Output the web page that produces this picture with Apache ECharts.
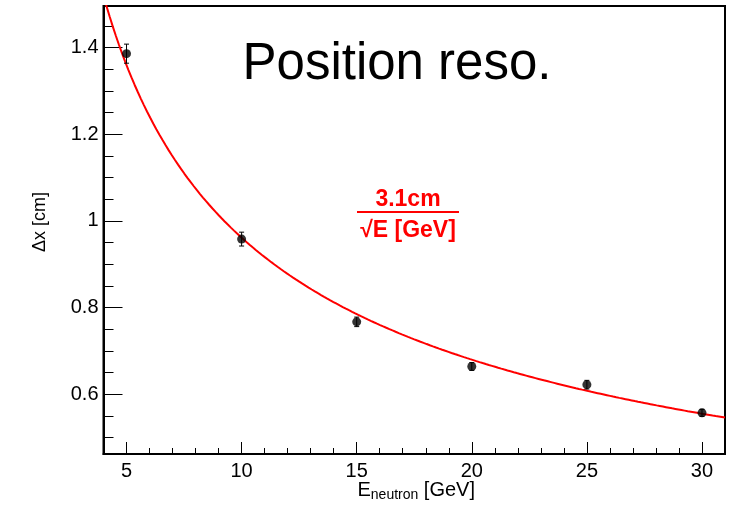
<!DOCTYPE html>
<html>
<head>
<meta charset="utf-8">
<script src="https://cdn.jsdelivr.net/npm/echarts@6/dist/echarts.min.js"></script>
<style>
  html, body { margin: 0; padding: 0; background: #fff; }
  #chart { width: 734px; height: 508px; }
</style>
</head>
<body>
<div id="chart"></div>
<script>
// Measured resolution vs neutron energy
const energies = [5, 10, 15, 20, 25, 30];
const resolution = [1.386, 0.958, 0.767, 0.664, 0.622, 0.557];
const resolutionErr = [0.022, 0.016, 0.011, 0.009, 0.010, 0.008];

// Fit: a / sqrt(E)
const fitA = 3.04;
const fitRange = [4, 31];
const fitSteps = 200;

// Axis ticks
const xMajorTicks = [5, 10, 15, 20, 25, 30];
const xMinorTicks = [5, 6, 7, 8, 9, 10, 11, 12, 13, 14, 15, 16, 17, 18, 19, 20, 21, 22, 23, 24, 25, 26, 27, 28, 29, 30];
const yMajorTicks = [0.6, 0.8, 1.0, 1.2, 1.4];
const yMinorTicks = [0.5, 0.55, 0.6, 0.65, 0.7, 0.75, 0.8, 0.85, 0.9, 0.95, 1.0, 1.05, 1.1, 1.15, 1.2, 1.25, 1.3, 1.35, 1.4, 1.45];
const xRange = [4, 31];
const yRange = [0.462, 1.496];

const fitCurve = [];
for (let i = 0; i <= fitSteps; i++) {
  const e = fitRange[0] + (fitRange[1] - fitRange[0]) * i / fitSteps;
  fitCurve.push([e, fitA / Math.sqrt(e)]);
}

const points = energies.map((e, i) => [e, resolution[i]]);
const errBars = energies.map((e, i) => [e, resolution[i] - resolutionErr[i], resolution[i] + resolutionErr[i]]);

const FONT = 'Liberation Sans, Arial, Helvetica, sans-serif';
const grid = { left: 103.5, right: 9, top: 6, bottom: 54 };

const chart = echarts.init(document.getElementById('chart'), null, { renderer: 'canvas' });

chart.setOption({
  animation: false,
  backgroundColor: '#fff',
  grid: Object.assign({ show: true, borderColor: '#000', borderWidth: 2, backgroundColor: '#fff' }, grid),
  xAxis: [
    {
      type: 'value', min: xRange[0], max: xRange[1],
      axisLine: { show: true, onZero: false, lineStyle: { color: '#000', width: 2 } },
      axisTick: { show: true, inside: true, length: 12, customValues: xMajorTicks, lineStyle: { color: '#000', width: 1 } },
      axisLabel: { show: true, customValues: xMajorTicks, color: '#000', fontSize: 20, fontFamily: FONT, margin: 7 },
      splitLine: { show: false }
    },
    {
      type: 'value', min: xRange[0], max: xRange[1], position: 'bottom',
      axisLine: { show: false },
      axisTick: { show: true, inside: true, length: 6, customValues: xMinorTicks, lineStyle: { color: '#000', width: 1 } },
      axisLabel: { show: false },
      splitLine: { show: false }
    }
  ],
  yAxis: [
    {
      type: 'value', min: yRange[0], max: yRange[1],
      axisLine: { show: true, onZero: false, lineStyle: { color: '#000', width: 2 } },
      axisTick: { show: true, inside: true, length: 19, customValues: yMajorTicks, lineStyle: { color: '#000', width: 1 } },
      axisLabel: { show: true, customValues: yMajorTicks, color: '#000', fontSize: 20, fontFamily: FONT, margin: 5 },
      splitLine: { show: false }
    },
    {
      type: 'value', min: yRange[0], max: yRange[1], position: 'left',
      axisLine: { show: false },
      axisTick: { show: true, inside: true, length: 10, customValues: yMinorTicks, lineStyle: { color: '#000', width: 1 } },
      axisLabel: { show: false },
      splitLine: { show: false }
    }
  ],
  series: [
    {
      type: 'line', data: fitCurve, showSymbol: false, clip: true,
      lineStyle: { color: '#ff0000', width: 2 }, z: 3
    },
    {
      type: 'custom', data: errBars, z: 4,
      renderItem: function (params, api) {
        const lo = api.coord([api.value(0), api.value(1)]);
        const hi = api.coord([api.value(0), api.value(2)]);
        const cap = 2.5;
        const style = { stroke: '#000', lineWidth: 1 };
        return {
          type: 'group',
          children: [
            { type: 'line', shape: { x1: lo[0], y1: lo[1], x2: hi[0], y2: hi[1] }, style: style },
            { type: 'line', shape: { x1: lo[0] - cap, y1: lo[1], x2: lo[0] + cap, y2: lo[1] }, style: style },
            { type: 'line', shape: { x1: hi[0] - cap, y1: hi[1], x2: hi[0] + cap, y2: hi[1] }, style: style }
          ]
        };
      }
    },
    {
      type: 'scatter', data: points, symbol: 'circle', symbolSize: 9,
      itemStyle: { color: '#000' }, z: 5
    }
  ],
  graphic: [
    {
      type: 'text', x: 397, y: 65,
      style: { text: 'Position reso.', font: '51px ' + FONT, fill: '#000', align: 'center', verticalAlign: 'middle' }
    },
    {
      type: 'text', x: 40, y: 222, rotation: Math.PI / 2,
      style: { text: '\u0394x [cm]', font: '18px ' + FONT, fill: '#000', align: 'center', verticalAlign: 'middle' }
    },
    {
      type: 'text', x: 475, y: 490,
      style: {
        text: '{a|E}{s|neutron}{a| [GeV]}',
        align: 'right', verticalAlign: 'middle',
        rich: {
          a: { fontSize: 20, fontFamily: FONT, fill: '#000', color: '#000', lineHeight: 24 },
          s: { fontSize: 14, fontFamily: FONT, fill: '#000', color: '#000', lineHeight: 24, padding: [11, 0, 0, 0] }
        }
      }
    },
    {
      type: 'text', x: 408, y: 200,
      style: { text: '3.1cm', font: 'bold 23px ' + FONT, fill: '#ff0000', align: 'center', verticalAlign: 'middle' }
    },
    {
      type: 'line', shape: { x1: 357, y1: 212, x2: 459, y2: 212 },
      style: { stroke: '#ff0000', lineWidth: 2 }
    },
    {
      type: 'text', x: 408, y: 231,
      style: { text: '\u221AE [GeV]', font: 'bold 23px ' + FONT, fill: '#ff0000', align: 'center', verticalAlign: 'middle' }
    }
  ]
});
</script>
</body>
</html>
